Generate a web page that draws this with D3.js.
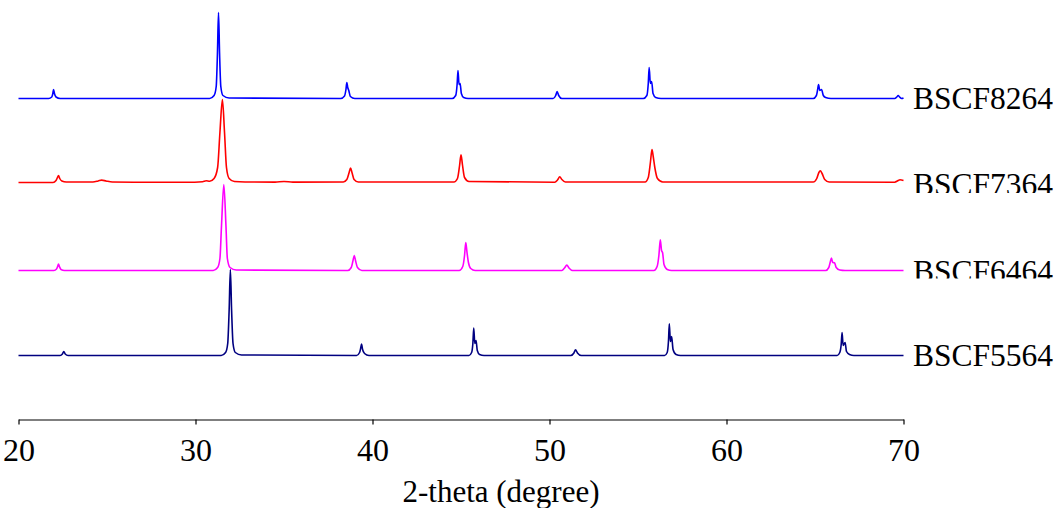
<!DOCTYPE html>
<html>
<head>
<meta charset="utf-8">
<script src="https://cdn.jsdelivr.net/npm/d3@7"></script>
<style>
  html, body { margin: 0; padding: 0; background: #ffffff; }
  svg { display: block; }
  text { font-family: "Liberation Serif", "Times New Roman", serif; fill: #000; }
</style>
</head>
<body>
<svg id="chart" width="1058" height="508"></svg>
<script>
// ---- data (2-theta in degrees, intensity in a.u. above each trace's baseline) ----
const seriesNames = ["BSCF8264", "BSCF7364", "BSCF6464", "BSCF5564"];
const seriesColors = ["#0000ff", "#ff0000", "#ff00ff", "#000080"];
const seriesOffsets = [321, 237, 149, 64];
const xTicks = [20, 30, 40, 50, 60, 70];
const xLabel = "2-theta (degree)";

const bscf8264 = [
  [20,0],[21.7,0],[21.88,1.5],[21.94,5],[21.98,9],[22.03,5],[22.12,1.5],[22.35,0],
  [30.8,0],[31.05,3],[31.17,12],[31.24,45],[31.3,86],[31.36,45],[31.43,12],[31.55,3],[31.9,0.5],
  [38.2,0],[38.42,2.5],[38.5,9],[38.55,16],[38.6,11],[38.66,8],[38.75,2],[39.0,0],
  [44.5,0],[44.7,3],[44.78,14],[44.83,28],[44.89,14],[44.95,15],[45.02,5],[45.15,1],[45.4,0],
  [50.2,0],[50.35,3],[50.43,7],[50.52,3],[50.7,0],
  [55.3,0],[55.5,3],[55.58,15],[55.63,31],[55.7,15],[55.77,17],[55.85,5],[56.0,1],[56.3,0],
  [64.9,0],[65.08,3],[65.15,9],[65.2,14],[65.27,8],[65.37,9],[65.47,3],[65.6,1],[65.9,0],
  [69.5,0],[69.62,1.5],[69.7,3],[69.78,1.5],[69.9,0],[70,0.5]
];
const bscf7364 = [
  [20,0],[21.95,0],[22.12,2],[22.2,5],[22.26,7],[22.33,4],[22.45,1.5],[22.7,0.5],
  [24.2,0.5],[24.5,1.5],[24.7,2.4],[24.95,1.5],[25.3,0.5],
  [26.5,0.3],[29.5,0.3],[30.4,0.8],[30.6,1.7],[30.8,1.2],[31.05,4],[31.25,15],[31.38,50],[31.52,83],[31.64,50],[31.75,15],[31.9,4],[32.2,1],[32.8,0.5],
  [34.5,0.4],[35.0,1],[35.5,0.4],
  [38.35,0.5],[38.55,3],[38.68,10],[38.76,14.5],[38.84,10],[38.96,3],[39.2,0.5],
  [44.6,0.5],[44.8,4],[44.92,17],[45.0,27.7],[45.08,18],[45.2,5],[45.45,1],
  [50.3,0.3],[50.45,2.5],[50.58,5.7],[50.7,3],[50.9,0.5],
  [55.4,0.5],[55.58,5],[55.7,20],[55.79,33],[55.86,26],[55.95,15],[56.1,4],[56.4,0.5],
  [64.9,0.5],[65.1,4],[65.22,10],[65.3,11.7],[65.4,9],[65.55,3],[65.8,0.5],
  [69.5,0.3],[69.7,2],[69.8,2.7],[70,2]
];
const bscf6464 = [
  [20,0],[22.0,0],[22.15,1.5],[22.21,4],[22.26,6.4],[22.31,4],[22.4,1],[22.6,0],
  [31.0,0],[31.25,3],[31.38,12],[31.47,45],[31.6,86],[31.72,45],[31.8,12],[31.95,3],[32.3,0.5],
  [38.6,0],[38.8,3],[38.9,10],[38.97,15],[39.04,10],[39.15,3],[39.4,0],
  [44.9,0],[45.1,4],[45.2,15],[45.27,28],[45.34,18],[45.42,8],[45.55,2],[45.8,0],
  [50.7,0],[50.85,2.5],[50.98,5.4],[51.1,2.5],[51.3,0],
  [55.9,0],[56.08,4],[56.18,15],[56.26,30.7],[56.33,20],[56.39,17.7],[56.47,6],[56.65,1],[56.9,0],
  [65.6,0],[65.78,3],[65.87,9],[65.93,12.4],[66.0,8],[66.1,7.7],[66.2,3],[66.4,0.5],[66.7,0],
  [70,0]
];
const bscf5564 = [
  [20,0],[22.35,0],[22.48,1.5],[22.56,4],[22.64,1.5],[22.8,0],
  [31.45,0],[31.7,3],[31.82,12],[31.9,45],[31.97,86],[32.04,45],[32.12,12],[32.25,3],[32.6,0.5],
  [39.1,0],[39.27,3],[39.34,8],[39.38,11.4],[39.44,6],[39.55,2],[39.8,0],
  [45.45,0],[45.6,3],[45.67,12],[45.72,27.4],[45.78,12],[45.85,15],[45.92,5],[46.05,1],[46.3,0],
  [51.2,0],[51.38,2.5],[51.47,5.7],[51.58,2.5],[51.8,0],
  [56.5,0],[56.65,3],[56.72,14],[56.77,31.7],[56.83,14],[56.9,19],[56.98,6],[57.15,1],[57.4,0],
  [66.25,0],[66.4,3],[66.48,11],[66.53,23],[66.59,10],[66.7,13],[66.78,4],[66.95,1],[67.2,0],
  [70,0]
];
const seriesData = [bscf8264, bscf7364, bscf6464, bscf5564];

// ---- layout ----
const svg = d3.select("#chart");
const x = d3.scaleLinear().domain([20, 70]).range([18.5, 903.5]);
const y = d3.scaleLinear().domain([0, 420]).range([419.5, -0.5]);

const line = d3.line()
  .x(d => x(d[0]))
  .y(d => d[1])
  .curve(d3.curveMonotoneX);

const defs = svg.append("defs");
// label baseline shifts and clip regions (the reference crops the bottoms of two labels)
const labelShift = [10, 12.5, 11.5, 10];
const labelClip = [null, 193, 278.5, null];

seriesData.forEach((data, i) => {
  const off = seriesOffsets[i];
  svg.append("path")
    .attr("d", line(data.map(d => [d[0], y(off + d[1])])))
    .attr("fill", "none")
    .attr("stroke", seriesColors[i])
    .attr("stroke-width", 1.6)
    .attr("stroke-linejoin", "round");

  const t = svg.append("text")
    .attr("x", 913)
    .attr("y", y(off) + labelShift[i])
    .attr("font-size", 31.5)
    .text(seriesNames[i]);
  if (labelClip[i] !== null) {
    const id = "clip" + i;
    defs.append("clipPath").attr("id", id)
      .append("rect").attr("x", 900).attr("y", 0).attr("width", 158).attr("height", labelClip[i]);
    t.attr("clip-path", "url(#" + id + ")");
  }
});

// ---- x axis ----
const axis = d3.axisBottom(x).tickValues(xTicks).tickFormat(d3.format("d"))
  .tickSize(5).tickSizeOuter(0).tickPadding(14);
const gx = svg.append("g").attr("transform", "translate(0,419.5)").call(axis);
gx.select(".domain").attr("stroke", "#000").attr("stroke-width", 1.2);
gx.selectAll(".tick line").attr("stroke", "#000").attr("stroke-width", 1.2);
gx.selectAll(".tick text")
  .attr("font-family", "Liberation Serif, Times New Roman, serif")
  .attr("font-size", 32)
  .attr("fill", "#000");

svg.append("text")
  .attr("x", 501)
  .attr("y", 501.5)
  .attr("text-anchor", "middle")
  .attr("font-size", 31)
  .text(xLabel);
</script>
</body>
</html>
